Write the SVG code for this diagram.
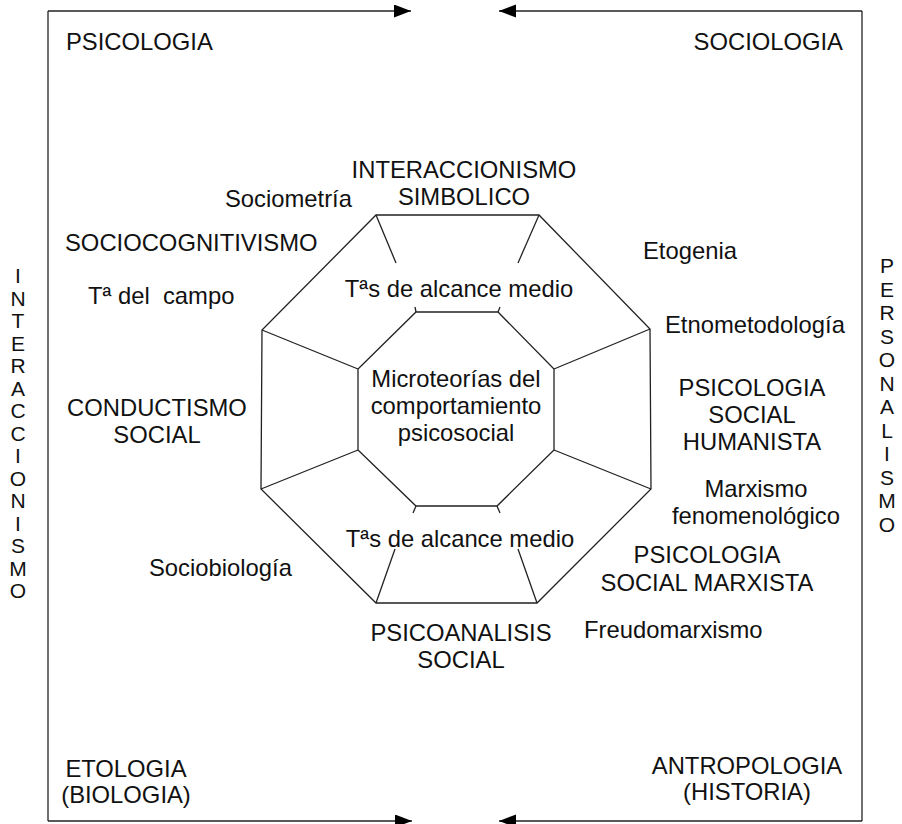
<svg xmlns="http://www.w3.org/2000/svg" width="902" height="824" viewBox="0 0 902 824">
<style>
text{font-family:"Liberation Sans",Arial,Helvetica,sans-serif;font-size:23.8px;fill:#111}
.m{text-anchor:middle}
.e{text-anchor:end}
.v{font-size:21px;text-anchor:middle}
.ln{stroke:#222;stroke-width:1.3;fill:none}
</style>
<defs>
<marker id="ah" markerUnits="userSpaceOnUse" markerWidth="18" markerHeight="14" refX="17" refY="6.5" orient="auto">
<path d="M0,0 L17,6.5 L0,13 z" fill="#000"/>
</marker>
</defs>
<rect width="902" height="824" fill="#fff"/>
<g id="connectors">
<line class="ln" x1="48" y1="11" x2="48" y2="821"/>
<line class="ln" x1="862" y1="11" x2="862" y2="821"/>
<line class="ln" x1="48" y1="11" x2="411" y2="11" marker-end="url(#ah)"/>
<line class="ln" x1="862" y1="11" x2="499" y2="11" marker-end="url(#ah)"/>
<line class="ln" x1="48" y1="821" x2="412" y2="821" marker-end="url(#ah)"/>
<line class="ln" x1="862" y1="821" x2="499" y2="821" marker-end="url(#ah)"/>
</g>
<g id="octagon">
<polygon class="ln" points="376,215 539,215 650,329 651,489 537,603 376,603 261,489 262,330"/>
<polygon class="ln" points="416,312 498,312 554,369 554,450 497,506 416,506 358,450 358,369"/>
<line class="ln" x1="262" y1="330" x2="358" y2="369"/>
<line class="ln" x1="261" y1="489" x2="358" y2="450"/>
<line class="ln" x1="650" y1="329" x2="554" y2="369"/>
<line class="ln" x1="651" y1="489" x2="554" y2="450"/>
<line class="ln" x1="376" y1="215" x2="396" y2="263"/>
<line class="ln" x1="539" y1="215" x2="518" y2="263"/>
<line class="ln" x1="376" y1="603" x2="395" y2="549"/>
<line class="ln" x1="537" y1="603" x2="518" y2="549"/>
<line class="ln" x1="416" y1="312" x2="415" y2="307"/>
<line class="ln" x1="498" y1="312" x2="500" y2="307"/>
<line class="ln" x1="416" y1="506" x2="413" y2="513"/>
<line class="ln" x1="497" y1="506" x2="500" y2="513"/>
</g>
<g id="psicologia"><text x="66" y="50">PSICOLOGIA</text></g>
<g id="sociologia"><text class="e" x="843" y="50">SOCIOLOGIA</text></g>
<g id="interaccionismo-simbolico"><text class="m" x="464" y="178">INTERACCIONISMO</text><text class="m" x="464" y="205">SIMBOLICO</text></g>
<g id="sociometria"><text x="225" y="207">Sociometría</text></g>
<g id="sociocognitivismo"><text x="65" y="251">SOCIOCOGNITIVISMO</text></g>
<g id="etogenia"><text x="643" y="259">Etogenia</text></g>
<g id="teoria-campo"><text x="88" y="304" xml:space="preserve">Tª del  campo</text></g>
<g id="alcance-medio-top"><text class="m" x="459" y="297">Tªs de alcance medio</text></g>
<g id="etnometodologia"><text x="665" y="333">Etnometodología</text></g>
<g id="microteorias"><text class="m" x="456" y="387">Microteorías del</text><text class="m" x="456" y="414">comportamiento</text><text class="m" x="456" y="441">psicosocial</text></g>
<g id="conductismo"><text class="m" x="157" y="416">CONDUCTISMO</text><text class="m" x="157" y="443">SOCIAL</text></g>
<g id="humanista"><text class="m" x="752" y="396">PSICOLOGIA</text><text class="m" x="752" y="423">SOCIAL</text><text class="m" x="752" y="450">HUMANISTA</text></g>
<g id="marxismo-fenomenologico"><text class="m" x="756" y="497">Marxismo</text><text class="m" x="756" y="524">fenomenológico</text></g>
<g id="alcance-medio-bottom"><text class="m" x="460" y="547">Tªs de alcance medio</text></g>
<g id="marxista"><text class="m" x="707" y="563">PSICOLOGIA</text><text class="m" x="707" y="591">SOCIAL MARXISTA</text></g>
<g id="sociobiologia"><text x="149" y="576">Sociobiología</text></g>
<g id="psicoanalisis"><text class="m" x="461" y="641">PSICOANALISIS</text><text class="m" x="461" y="668">SOCIAL</text></g>
<g id="freudomarxismo"><text x="584" y="638">Freudomarxismo</text></g>
<g id="etologia"><text class="m" x="126" y="777">ETOLOGIA</text><text class="m" x="126" y="803">(BIOLOGIA)</text></g>
<g id="antropologia"><text class="m" x="747" y="774">ANTROPOLOGIA</text><text class="m" x="747" y="800">(HISTORIA)</text></g>
<g id="interaccionismo-axis">
<text class="v" x="18" y="283">I</text><text class="v" x="18" y="305.5">N</text><text class="v" x="18" y="328">T</text><text class="v" x="18" y="350.5">E</text><text class="v" x="18" y="373">R</text><text class="v" x="18" y="395.5">A</text><text class="v" x="18" y="418">C</text><text class="v" x="18" y="440.5">C</text><text class="v" x="18" y="463">I</text><text class="v" x="18" y="485.5">O</text><text class="v" x="18" y="508">N</text><text class="v" x="18" y="530.5">I</text><text class="v" x="18" y="553">S</text><text class="v" x="18" y="575.5">M</text><text class="v" x="18" y="598">O</text>
</g>
<g id="personalismo-axis">
<text class="v" x="887" y="273">P</text><text class="v" x="887" y="296.5">E</text><text class="v" x="887" y="320">R</text><text class="v" x="887" y="343.5">S</text><text class="v" x="887" y="367">O</text><text class="v" x="887" y="390.5">N</text><text class="v" x="887" y="414">A</text><text class="v" x="887" y="437.5">L</text><text class="v" x="887" y="461">I</text><text class="v" x="887" y="484.5">S</text><text class="v" x="887" y="508">M</text><text class="v" x="887" y="531.5">O</text>
</g>
</svg>
